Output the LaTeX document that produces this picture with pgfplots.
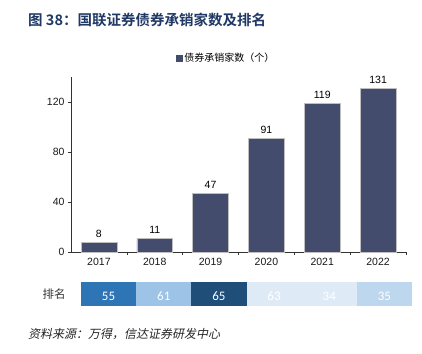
\documentclass[border=0pt]{standalone}
\usepackage{pgfplots}
\pgfplotsset{compat=1.18}
\usepackage{fontspec}
\setmainfont{Liberation Sans}
\newfontfamily\cjk{Noto Sans CJK SC}
\newfontfamily\cjkb{Noto Sans CJK SC Bold}
\newfontfamily\cjki[FakeSlant=0.2]{Noto Sans CJK SC}
\newfontfamily\calib{Carlito}
\definecolor{barcol}{HTML}{444C6E}
\definecolor{titlecol}{HTML}{1F3864}
\definecolor{r1}{HTML}{2E75B6}
\definecolor{r2}{HTML}{9DC3E6}
\definecolor{r3}{HTML}{1F4E79}
\definecolor{r4}{HTML}{DEEBF7}
\definecolor{r5}{HTML}{DEEBF7}
\definecolor{r6}{HTML}{BDD7EE}
\begin{document}
\begin{tikzpicture}
\path[use as bounding box] (0bp,0bp) rectangle (422bp,-354bp);
\node[anchor=west, inner sep=0pt, text=titlecol, font=\fontsize{14.5bp}{17bp}\cjkb] at (28bp,-20bp) {图 38：国联证券债券承销家数及排名};
\begin{axis}[
  at={(71bp,-252bp)}, anchor=south west,
  scale only axis, width=335bp, height=175bp,
  xmin=-0.5, xmax=5.5, ymin=0, ymax=140,
  axis x line*=bottom, axis y line*=left,
  axis line style={black!80, line width=0.6pt},
  ytick={0,40,80,120},
  xtick={0.5,1.5,2.5,3.5,4.5,5.5},
  xticklabels={},
  extra x ticks={0,1,2,3,4,5},
  extra x tick labels={2017,2018,2019,2020,2021,2022},
  extra x tick style={major tick length=0pt, xticklabel style={yshift=-3bp}},
  tick align=outside,
  major tick length=3bp,
  tick style={black!80, line width=0.6pt},
  ticklabel style={font=\fontsize{10.5bp}{12bp}\selectfont, text=black!90},
  /pgf/number format/assume math mode=true,
  legend style={at={(0.463,1.109)}, anchor=center, draw=none, fill=none, font=\fontsize{10bp}{12bp}\cjk, inner sep=0pt},
  legend image code/.code={\fill[barcol] (0bp,-3bp) rectangle (6bp,3bp);},
]
\addplot[ybar, bar width=0.64, bar shift=0pt, fill=barcol, draw=black!25, line width=0.5pt,
  nodes near coords, every node near coord/.append style={font=\fontsize{10.5bp}{12bp}\selectfont, text=black, yshift=1bp}]
  coordinates {(0,8) (1,11) (2,47) (3,91) (4,119) (5,131)};
\addlegendentry{债券承销家数（个）}
\end{axis}
\node[font=\fontsize{11.5bp}{14bp}\cjk, text=black!80] at (54bp,-294bp) {排名};
\begin{axis}[
  at={(81bp,-306bp)}, anchor=south west,
  scale only axis, width=331bp, height=24bp,
  xmin=-0.5, xmax=5.5, ymin=0, ymax=1,
  hide axis, clip=false,
]
\addplot[ybar, bar width=1, bar shift=0pt, fill=r1, draw=none] coordinates {(0,1)};
\addplot[ybar, bar width=1, bar shift=0pt, fill=r2, draw=none] coordinates {(1,1)};
\addplot[ybar, bar width=1, bar shift=0pt, fill=r3, draw=none] coordinates {(2,1)};
\addplot[ybar, bar width=1, bar shift=0pt, fill=r4, draw=none] coordinates {(3,1)};
\addplot[ybar, bar width=1, bar shift=0pt, fill=r5, draw=none] coordinates {(4,1)};
\addplot[ybar, bar width=1, bar shift=0pt, fill=r6, draw=none] coordinates {(5,1)};
\addplot[only marks, mark=none, nodes near coords, point meta=explicit symbolic,
  every node near coord/.append style={anchor=center, font=\fontsize{13bp}{15bp}\calib, text=white}]
  coordinates {(0,0.42)[55] (1,0.42)[61] (2,0.42)[65] (3,0.42)[63] (4,0.42)[34] (5,0.42)[35]};
\end{axis}
\node[anchor=west, inner sep=0pt, font=\fontsize{12bp}{14bp}\cjki, text=black!85] at (28bp,-334bp) {资料来源：万得，信达证券研发中心};
\end{tikzpicture}
\end{document}
